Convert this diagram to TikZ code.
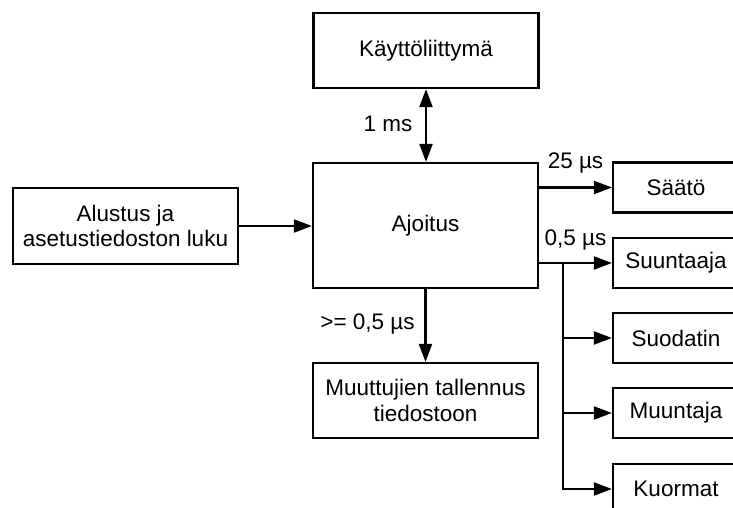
\documentclass[tikz,border=0pt]{standalone}
\usepackage{fontspec}
\setmainfont{Liberation Sans}
\usetikzlibrary{arrows.meta}
\begin{document}
\begin{tikzpicture}[x=1pt,y=-1pt,
  box/.style={draw, line width=2.2pt, align=center, inner sep=0pt,
    font=\fontsize{22.5}{25.5}\selectfont},
  wide/.style={box, minimum width=225pt},
  side/.style={box, minimum width=126pt, minimum height=50pt},
  lbl/.style={font=\fontsize{22.5}{25.5}\selectfont, inner sep=0pt},
  arr/.style={-{Triangle[length=18pt,width=13pt]}, line width=2.2pt},
  darr/.style={{Triangle[length=18pt,width=13pt]}-{Triangle[length=18pt,width=13pt]}, line width=2.2pt}]
\clip (0,0) rectangle (733,508);
\fill[white] (0,0) rectangle (733,508);
% boxes
\node[wide, minimum height=75pt] (ui) at (426,50.5) {Käyttöliittymä};
\node[wide, minimum height=125pt] (ajo) at (425.5,225.5) {Ajoitus};
\node[wide, minimum height=76pt] (alu) at (125.5,226) {Alustus ja\\asetustiedoston luku};
\node[wide, minimum height=75pt] (mut) at (425.5,400.5) {Muuttujien tallennus\\tiedostoon};
\node[side] (saato) at (676,187.5) {Säätö};
\node[side] (suun) at (676,263) {Suuntaaja};
\node[side] (suod) at (676,338) {Suodatin};
\node[side] (muun) at (676,413) {Muuntaja};
\node[side] (kuor) at (676,489) {Kuormat};
% connectors
\draw[darr] (ui.south) -- (ui.south |- ajo.north);
\draw[arr] (alu.east) -- (alu.east -| ajo.west);
\draw[arr] (ajo.south) -- (mut.north);
\draw[arr] (saato.west -| ajo.east) -- (saato.west);
\draw[arr] (suun.west -| ajo.east) -- (suun.west);
\coordinate (tr) at (563,263);
\draw[arr] (tr) -- (tr |- kuor.west) -- (kuor.west);
\draw[arr] (tr |- suod.west) -- (suod.west);
\draw[arr] (tr |- muun.west) -- (muun.west);
% labels
\node[lbl] (l1) at (388,124) {1 ms};
\node[lbl] (l2) at (575.5,163) {25 µs};
\node[lbl] (l3) at (575.5,239.5) {0,5 µs};
\node[lbl] (l4) at (367.5,324) {>= 0,5 µs};
\end{tikzpicture}
\end{document}
